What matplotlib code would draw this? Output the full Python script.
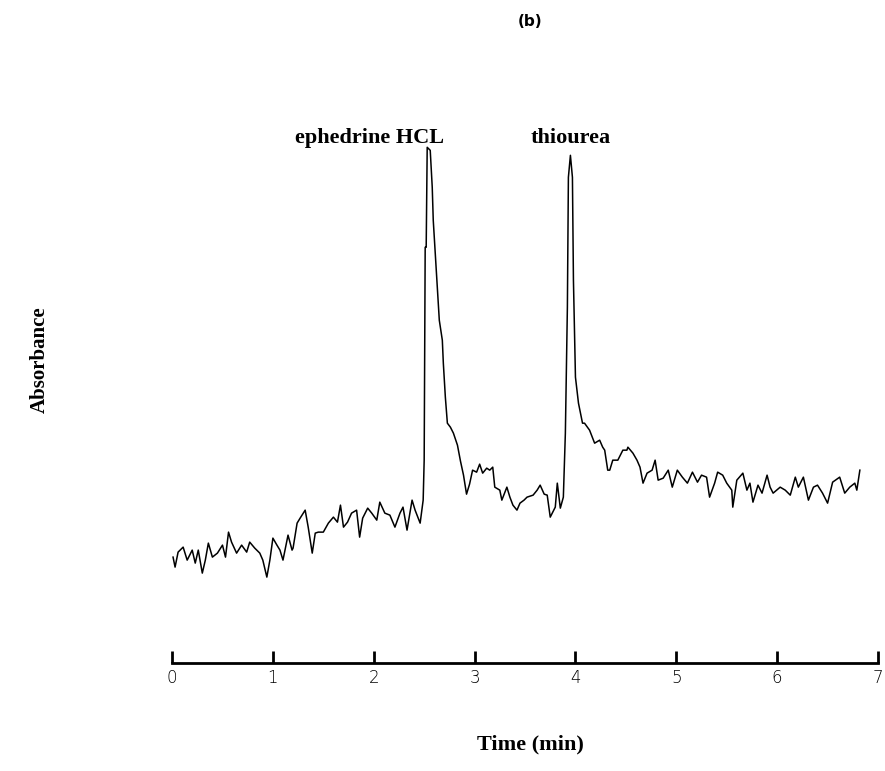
import matplotlib.pyplot as plt

# retention time (min) and detector signal (arbitrary units)
time_min = [
    0.01, 0.03, 0.06, 0.11, 0.15, 0.20, 0.23, 0.26, 0.30, 0.33, 0.36, 0.40, 0.45,
    0.50, 0.53, 0.56, 0.59, 0.64, 0.69, 0.74, 0.77, 0.82, 0.87, 0.90, 0.94, 0.97,
    1.00, 1.04, 1.07, 1.10, 1.15, 1.19, 1.20, 1.24, 1.27, 1.32, 1.35, 1.39, 1.42,
    1.45, 1.50, 1.55, 1.60, 1.64, 1.67, 1.70, 1.74, 1.78, 1.83, 1.86, 1.89, 1.94,
    1.98, 2.03, 2.06, 2.11, 2.16, 2.21, 2.26, 2.29, 2.33, 2.38, 2.41, 2.46, 2.49,
    2.50, 2.51, 2.52, 2.53, 2.56, 2.58, 2.59, 2.61, 2.63, 2.65, 2.68, 2.69, 2.71,
    2.73, 2.76, 2.79, 2.83, 2.86, 2.89, 2.92, 2.95, 2.98, 3.02, 3.05, 3.08, 3.12,
    3.15, 3.18, 3.20, 3.25, 3.27, 3.32, 3.35, 3.38, 3.42, 3.45, 3.49, 3.52, 3.58,
    3.62, 3.65, 3.69, 3.72, 3.75, 3.80, 3.82, 3.85, 3.88, 3.90, 3.92, 3.93, 3.95,
    3.97, 3.98, 4.00, 4.03, 4.07, 4.09, 4.14, 4.19, 4.24, 4.27, 4.29, 4.32, 4.34,
    4.37, 4.42, 4.47, 4.51, 4.52, 4.57, 4.61, 4.64, 4.67, 4.71, 4.76, 4.79, 4.82,
    4.87, 4.92, 4.96, 5.01, 5.06, 5.11, 5.16, 5.21, 5.25, 5.30, 5.33, 5.38, 5.41,
    5.46, 5.50, 5.55, 5.56, 5.60, 5.66, 5.70, 5.73, 5.76, 5.81, 5.85, 5.90, 5.93,
    5.96, 6.03, 6.08, 6.13, 6.18, 6.21, 6.26, 6.31, 6.36, 6.40, 6.45, 6.50, 6.55,
    6.62, 6.67, 6.72, 6.77, 6.79, 6.82,
]
absorbance = [
    10.6, 9.6, 11.1, 11.6, 10.3, 11.3, 10.0, 11.3, 9.0, 10.3, 12.0, 10.6, 11.0,
    11.8, 10.6, 13.1, 12.1, 11.0, 11.8, 11.1, 12.1, 11.5, 11.0, 10.3, 8.6, 10.3,
    12.5, 11.8, 11.3, 10.3, 12.8, 11.3, 11.5, 14.0, 14.5, 15.3, 13.6, 11.0, 13.0,
    13.1, 13.1, 14.0, 14.6, 14.1, 15.8, 13.6, 14.1, 15.0, 15.3, 12.6, 14.5, 15.5,
    15.0, 14.3, 16.1, 15.0, 14.8, 13.6, 15.0, 15.6, 13.3, 16.3, 15.3, 14.0, 16.3,
    20.3, 41.6, 41.6, 51.6, 51.3, 47.6, 44.3, 41.0, 37.6, 34.3, 32.3, 30.0, 26.6,
    24.0, 23.6, 23.0, 21.8, 20.2, 18.8, 16.9, 17.9, 19.3, 19.1, 19.9, 19.0, 19.5,
    19.3, 19.6, 17.6, 17.3, 16.3, 17.6, 16.6, 15.8, 15.3, 16.0, 16.3, 16.6, 16.8,
    17.3, 17.8, 16.9, 16.8, 14.6, 15.6, 18.0, 15.5, 16.6, 23.0, 35.6, 48.6, 50.8,
    48.6, 38.3, 28.6, 26.0, 24.0, 24.0, 23.3, 22.0, 22.3, 21.6, 21.3, 19.3, 19.3,
    20.3, 20.3, 21.3, 21.3, 21.6, 21.0, 20.3, 19.6, 18.0, 19.0, 19.3, 20.3, 18.3,
    18.5, 19.3, 17.6, 19.3, 18.6, 18.0, 19.1, 18.1, 18.8, 18.6, 16.6, 18.0, 19.1,
    18.8, 18.0, 17.3, 15.6, 18.3, 19.0, 17.3, 18.0, 16.1, 17.8, 17.0, 18.8, 17.6,
    17.0, 17.6, 17.3, 16.8, 18.6, 17.6, 18.6, 16.3, 17.6, 17.8, 17.0, 16.0, 18.1,
    18.6, 17.0, 17.6, 18.0, 17.3, 19.3,
]

peak_names = ['ephedrine HCL', 'thiourea']
peak_times = [2.53, 3.95]
x_ticks = [0, 1, 2, 3, 4, 5, 6, 7]

serif = ['Liberation Serif', 'DejaVu Serif']

fig = plt.figure(figsize=(8.85, 7.71), dpi=100)
ax = fig.add_axes([0.1944, 0.140, 0.7977, 0.678])

ax.plot(time_min, absorbance, color='black', lw=1.1)

ax.set_xlim(0, 7)
ax.set_ylim(0, 52.3)
for s in ['left', 'right', 'top']:
    ax.spines[s].set_visible(False)
ax.spines['bottom'].set_linewidth(2)
ax.set_yticks([])
ax.set_xticks(x_ticks)
ax.tick_params(axis='x', direction='in', length=9, width=2, pad=4,
               labelsize=12)
for lbl in ax.get_xticklabels():
    lbl.set_fontweight('light')

# label offsets so the peak line sits under the "H" / centre of "thiourea"
offsets = [-0.57, 0.0]
for name, t, off in zip(peak_names, peak_times, offsets):
    ax.text(t + off, 52.0, name, ha='center', va='baseline',
            fontsize=16, fontweight='bold', family=serif)

fig.text(0.599, 0.034, 'Time (min)', ha='center', va='center',
         fontsize=16, fontweight='bold', family=serif)
fig.text(0.045, 0.533, 'Absorbance', ha='center', va='center',
         rotation=90, fontsize=15, fontweight='bold', family=serif)
fig.text(0.599, 0.972, '(b)', ha='center', va='center',
         fontsize=11, fontweight='bold')

fig.savefig('out.png', dpi=100)
